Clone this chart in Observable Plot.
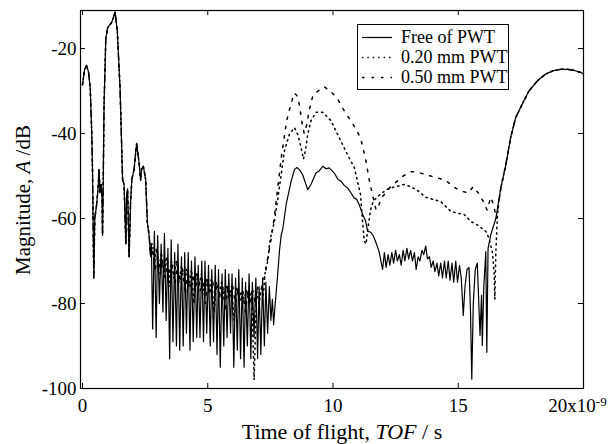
<!DOCTYPE html>
<html><head><meta charset="utf-8">
<script src="https://cdn.jsdelivr.net/npm/d3@7"></script>
<script src="https://cdn.jsdelivr.net/npm/@observablehq/plot@0.6"></script>
<style>
body{margin:0;background:#fff;}
#chart{position:relative;width:611px;height:444px;font-family:"Liberation Serif","Times New Roman",Times,"DejaVu Serif",serif;}
#legend{position:absolute;left:357px;top:24px;width:152px;height:66px;border:1px solid #000;background:#fff;box-sizing:border-box;font-size:18px;color:#000;font-family:"Liberation Serif","Times New Roman",Times,"DejaVu Serif",serif;}
#legend .row{position:absolute;left:0;height:20px;width:100%;}
#legend svg{position:absolute;left:3px;top:0;}
#legend span{position:absolute;left:43px;top:0;line-height:20px;white-space:nowrap;}
</style></head>
<body>
<div id="chart">
  <div id="legend"></div>
</div>
<script>
const FONT = '"Liberation Serif","Times New Roman",Times,"DejaVu Serif",serif';
// Legend labels
const seriesNames = ["Free of PWT", "0.20 mm PWT", "0.50 mm PWT"];
const xTicks = [0, 5, 10, 15, 20];
const yTicks = [-100, -80, -60, -40, -20];

// Shared start (x 0 – 2.75 ns): all three traces coincide
const commonStart = [[0,-28.5],[0.08,-25],[0.16,-24],[0.24,-25.5],[0.31,-29.5],[0.37,-40],[0.4,-49],[0.45,-74],[0.49,-60],[0.56,-57],[0.62,-53],[0.66,-48.5],[0.7,-54],[0.74,-52],[0.78,-55],[0.8,-64],[0.83,-50],[0.86,-33.5],[0.93,-17.6],[1.0,-15.2],[1.06,-14.6],[1.15,-14],[1.22,-13],[1.3,-11.4],[1.39,-16],[1.5,-29.5],[1.6,-50.8],[1.66,-52],[1.73,-66],[1.76,-55],[1.8,-53],[1.86,-69],[1.92,-56],[1.97,-50.8],[2.06,-48.4],[2.16,-42.3],[2.22,-45],[2.26,-47],[2.32,-51],[2.36,-48.4],[2.43,-47.7],[2.52,-50.8],[2.59,-61],[2.66,-64],[2.72,-69],[2.75,-66]];

// Shared end (x 16.7 – 20 ns)
const commonEnd = [[16.7,-52.8],[16.9,-47.3],[17.09,-41],[17.29,-36.3],[17.56,-33],[17.82,-30],[18.16,-27.6],[18.49,-26],[18.8,-25.2],[19.1,-24.9],[19.35,-24.9],[19.6,-25.1],[19.88,-25.6],[20,-26]];

// Free of PWT (solid)
const freeMid = [[2.80,-86],[2.87,-63],[2.94,-88],[3.00,-64],[3.07,-80],[3.14,-66],[3.21,-82],[3.27,-63.5],[3.34,-84],[3.41,-67],[3.48,-93],[3.54,-65],[3.61,-89],[3.68,-68],[3.75,-90],[3.81,-66],[3.88,-91],[3.95,-69],[4.02,-90],[4.08,-68],[4.15,-87],[4.22,-68],[4.29,-91],[4.35,-70],[4.42,-89],[4.49,-69],[4.56,-88],[4.62,-71],[4.69,-88],[4.76,-70],[4.83,-89],[4.89,-70],[4.96,-87],[5.03,-71],[5.10,-90],[5.16,-72],[5.23,-89],[5.30,-71],[5.37,-92],[5.43,-72],[5.50,-95],[5.57,-73],[5.64,-90],[5.70,-72],[5.77,-88],[5.84,-73],[5.91,-87],[5.97,-73],[6.04,-95],[6.11,-74],[6.18,-91],[6.24,-72],[6.31,-93],[6.38,-74],[6.45,-95],[6.51,-75],[6.58,-90],[6.65,-73],[6.72,-93],[6.78,-75],[6.85,-88],[6.92,-74],[6.99,-93],[7.05,-76],[7.12,-92],[7.19,-74],[7.26,-90],[7.32,-75],[7.39,-87],[7.46,-76],[7.52,-84],[7.58,-79],[7.63,-85],[7.68,-81],[7.78,-74],[7.86,-67.8],[7.93,-64],[8.0,-62.3],[8.13,-56.7],[8.33,-51.2],[8.46,-48.5],[8.56,-48],[8.66,-48.5],[8.79,-49.7],[8.99,-53.2],[9.12,-52],[9.32,-49.3],[9.45,-48.8],[9.59,-47.7],[9.72,-48.3],[9.85,-48.1],[10.05,-49.3],[10.2,-50.8],[10.32,-51.2],[10.45,-52.2],[10.58,-52.8],[10.72,-54],[10.85,-55.2],[10.95,-55.5],[11.05,-56.8],[11.18,-59],[11.3,-60.5],[11.38,-63],[11.5,-63.2],[11.6,-64],[11.7,-65.4],[11.84,-67.8],[11.98,-72],[12.05,-68],[12.12,-71.5],[12.2,-68.5],[12.27,-71],[12.35,-68],[12.42,-70.5],[12.5,-67.5],[12.57,-70],[12.65,-68.5],[12.72,-71],[12.8,-67.5],[12.87,-70],[12.95,-67],[13.02,-69.5],[13.1,-67.5],[13.17,-70],[13.25,-68],[13.32,-72],[13.4,-69],[13.47,-70],[13.55,-67.5],[13.62,-68.5],[13.7,-66.5],[13.77,-69.5],[13.85,-69],[13.92,-71.5],[14.0,-70],[14.07,-72.5],[14.15,-70.5],[14.22,-73.5],[14.3,-70.5],[14.37,-74],[14.45,-70],[14.52,-74],[14.6,-70],[14.67,-74.5],[14.75,-70.5],[14.82,-75],[14.9,-70],[14.97,-75],[15.05,-71],[15.12,-74],[15.2,-82.8],[15.27,-76],[15.35,-72],[15.43,-71.5],[15.49,-82],[15.54,-97.8],[15.6,-80],[15.68,-72],[15.76,-70.5],[15.82,-80],[15.87,-87.5],[15.93,-78],[15.96,-89.9],[16.02,-76],[16.1,-67.8],[16.14,-91.5],[16.19,-67],[16.3,-63.8],[16.5,-60]];

// 0.20 mm PWT (dotted)
const pwt020Mid = [[2.80,-66],[2.87,-71],[2.95,-67],[3.05,-72],[3.15,-68],[3.25,-73],[3.35,-69],[3.45,-76],[3.55,-70],[3.65,-74],[3.75,-70],[3.85,-75],[3.95,-71],[4.05,-75],[4.15,-72],[4.25,-76],[4.35,-72],[4.45,-80],[4.55,-73],[4.65,-76],[4.75,-73],[4.85,-77],[4.95,-74],[5.05,-77],[5.15,-74],[5.25,-82],[5.35,-75],[5.45,-78],[5.55,-75],[5.65,-78],[5.75,-76],[5.85,-79],[5.95,-76],[6.05,-84],[6.15,-76],[6.25,-79],[6.35,-77],[6.45,-79],[6.55,-77],[6.65,-80],[6.75,-77],[6.85,-98],[6.95,-77],[7.05,-80],[7.15,-76],[7.22,-78],[7.3,-72],[7.4,-70],[7.46,-66],[7.53,-64],[7.66,-60.7],[7.8,-55.2],[7.93,-49.7],[8.06,-44.1],[8.26,-40.2],[8.46,-38.6],[8.59,-40.2],[8.73,-43.4],[8.82,-46],[8.9,-44],[8.99,-40.2],[9.12,-37],[9.32,-35],[9.59,-35],[9.92,-37],[10.25,-41],[10.58,-45],[10.85,-48],[11.1,-54.4],[11.18,-60.7],[11.25,-65.4],[11.32,-66],[11.4,-62],[11.5,-58],[11.6,-56],[11.75,-55],[11.95,-54],[12.2,-53],[12.5,-52.5],[12.84,-52],[13.1,-52.5],[13.4,-53.5],[13.7,-55],[14.0,-55.5],[14.3,-56],[14.7,-58.3],[15.0,-58.8],[15.23,-59],[15.5,-60.7],[15.76,-61.5],[16.1,-63],[16.23,-64.7],[16.36,-67.8],[16.43,-72.5],[16.46,-79],[16.5,-68],[16.56,-60],[16.62,-56]];

// 0.50 mm PWT (dashed)
const pwt050Mid = [[2.80,-68],[2.9,-72],[3.0,-69],[3.1,-73],[3.2,-70],[3.3,-74],[3.4,-70],[3.5,-74],[3.6,-71],[3.7,-75],[3.8,-71],[3.9,-75],[4.0,-72],[4.1,-78],[4.2,-72],[4.3,-76],[4.4,-73],[4.5,-77],[4.6,-73],[4.7,-77],[4.8,-74],[4.9,-80],[5.0,-74],[5.1,-78],[5.2,-75],[5.3,-78],[5.4,-75],[5.5,-79],[5.6,-76],[5.7,-82],[5.8,-76],[5.9,-79],[6.0,-76],[6.1,-80],[6.2,-77],[6.3,-80],[6.4,-77],[6.5,-82],[6.6,-77],[6.7,-80],[6.8,-77],[6.9,-80],[7.0,-76],[7.1,-78],[7.2,-75],[7.3,-73],[7.4,-69],[7.5,-66],[7.65,-60],[7.75,-55],[7.85,-50],[7.95,-45],[8.05,-41],[8.15,-37],[8.3,-33.5],[8.45,-30.5],[8.55,-31],[8.65,-33],[8.75,-37],[8.85,-40],[8.95,-38],[9.05,-34.5],[9.2,-31],[9.4,-30],[9.65,-29],[9.9,-30],[10.2,-32],[10.45,-34.7],[10.8,-37.8],[11.1,-41],[11.3,-46],[11.45,-51],[11.6,-55],[11.72,-58],[11.82,-57],[11.95,-55],[12.1,-54],[12.3,-52.5],[12.5,-51.5],[12.8,-50],[13.1,-49],[13.3,-49],[13.6,-49.5],[13.9,-50],[14.2,-50.5],[14.5,-51],[14.8,-52.5],[15.1,-53.5],[15.4,-54],[15.6,-52.5],[15.8,-54],[16.0,-56],[16.15,-58],[16.3,-55],[16.42,-57],[16.52,-60],[16.6,-57]];

const toRows = arr => arr.map(([x, y]) => ({x, y}));
const freeData = toRows([...commonStart, ...freeMid, ...commonEnd]);
const pwt020Data = toRows([...commonStart, ...pwt020Mid, ...commonEnd]);
const pwt050Data = toRows([...commonStart, ...pwt050Mid, ...commonEnd]);

const styles = [
  {stroke: "#000", strokeWidth: 1.2, strokeDasharray: null},
  {stroke: "#000", strokeWidth: 1.5, strokeDasharray: "1.4,4"},
  {stroke: "#000", strokeWidth: 1.5, strokeDasharray: "2.5,7"}
];

const X0 = -0.08, X1 = 20, Y0 = -100, Y1 = -11.05;

const chart = Plot.plot({
  width: 611,
  height: 444,
  marginLeft: 80,
  marginRight: 28,
  marginTop: 10,
  marginBottom: 56,
  style: {fontFamily: FONT, fontSize: "19px", color: "#000", background: "#fff"},
  x: {domain: [X0, X1]},
  y: {domain: [Y0, Y1]},
  marks: [
    Plot.line(pwt050Data, {x: "x", y: "y", ...styles[2]}),
    Plot.line(pwt020Data, {x: "x", y: "y", ...styles[1]}),
    Plot.line(freeData, {x: "x", y: "y", ...styles[0]}),
    // inward ticks on all four sides
    Plot.ruleX(xTicks, {x: d => d, y1: Y0, y2: Y0 + 1.2, stroke: "#000"}),
    Plot.ruleX(xTicks, {x: d => d, y1: Y1, y2: Y1 - 1.2, stroke: "#000"}),
    Plot.ruleY(yTicks, {y: d => d, x1: X0, x2: X0 + 0.2, stroke: "#000"}),
    Plot.ruleY(yTicks, {y: d => d, x1: X1, x2: X1 - 0.2, stroke: "#000"}),
    Plot.frame({stroke: "#000", strokeWidth: 1.2}),
    Plot.axisX({anchor: "bottom", ticks: xTicks, tickSize: 0, tickPadding: 10, tickFormat: d => String(d), label: null, fill: "#000", fontSize: 19, fontFamily: FONT}),
    Plot.axisY({anchor: "left", ticks: yTicks, tickSize: 0, tickPadding: 4, tickFormat: d => String(d), label: null, fill: "#000", fontSize: 19, fontFamily: FONT})
  ]
});

const container = document.getElementById("chart");
container.insertBefore(chart, container.firstChild);

// superscript exponent on the x tick label "20"
const ns = "http://www.w3.org/2000/svg";
const xLabels = Array.from(chart.querySelectorAll('[aria-label="x-axis tick label"] text'));
const last = xLabels.find(t => t.textContent === "20");
if (last) {
  last.textContent = "20x10";
  const sup = document.createElementNS(ns, "tspan");
  sup.setAttribute("dy", "-0.45em");
  sup.setAttribute("font-size", "13");
  sup.textContent = "-9";
  last.appendChild(sup);
  last.setAttribute("dx", "-6");
}

// axis titles with italic symbols
function addTitle(parts, attrs) {
  const t = document.createElementNS(ns, "text");
  for (const k in attrs) t.setAttribute(k, attrs[k]);
  t.setAttribute("font-family", FONT);
  for (const [s, it] of parts) {
    const sp = document.createElementNS(ns, "tspan");
    if (it) sp.setAttribute("font-style", "italic");
    sp.textContent = s;
    t.appendChild(sp);
  }
  chart.appendChild(t);
}
addTitle([["Time of flight, ", false], ["TOF", true], [" / s", false]],
  {x: 342, y: 439, "text-anchor": "middle", "font-size": "22", fill: "#000"});
addTitle([["Magnitude, ", false], ["A", true], [" /dB", false]],
  {transform: "translate(30,200) rotate(-90)", "text-anchor": "middle", "font-size": "21", fill: "#000"});

// legend
const legend = document.getElementById("legend");
seriesNames.forEach((name, i) => {
  const row = document.createElement("div");
  row.className = "row";
  row.style.top = (2 + i * 20) + "px";
  const s = styles[i];
  row.innerHTML = `<svg width="32" height="20"><line x1="1" x2="31" y1="10.5" y2="10.5" stroke="#000" stroke-width="${s.strokeWidth}" ${s.strokeDasharray ? `stroke-dasharray="${s.strokeDasharray}"` : ""}/></svg><span>${name}</span>`;
  legend.appendChild(row);
});
</script>
</body></html>
